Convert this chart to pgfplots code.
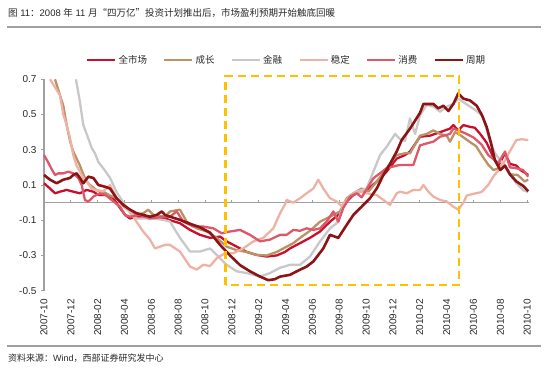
\documentclass[border=0pt]{standalone}
\usepackage{fontspec}
\setmainfont{Liberation Sans}
\newfontfamily\cjk{Noto Sans CJK SC}
\usepackage{pgfplots}
\pgfplotsset{compat=1.18}
\definecolor{cAll}{RGB}{200,16,46}
\definecolor{cGrow}{RGB}{188,145,102}
\definecolor{cFin}{RGB}{200,200,200}
\definecolor{cStab}{RGB}{238,178,165}
\definecolor{cCons}{RGB}{222,88,105}
\definecolor{cCyc}{RGB}{140,20,22}
\definecolor{axgray}{RGB}{160,160,160}
\definecolor{labcol}{RGB}{40,40,40}
\definecolor{boxc}{RGB}{255,192,0}
\pgfplotsset{
  legend image code/.code={\draw[#1, line width=2.6pt] (0pt,0pt) -- (28pt,0pt);},
}
\begin{document}
\begin{tikzpicture}
\path[use as bounding box] (0,0) rectangle (550pt,369pt);
\node[anchor=west, text=labcol, font=\fontsize{9.5}{11}\selectfont, inner sep=0pt] at (8pt,356pt)
  {{\cjk 图} 11{\cjk ：}2008 {\cjk 年} 11 {\cjk 月“四万亿”投资计划推出后，市场盈利预期开始触底回暖}};
\draw[axgray, line width=1.2pt] (7pt,342pt) -- (541pt,342pt);
\draw[axgray, line width=1.2pt] (7pt,23pt) -- (541pt,23pt);
\node[anchor=west, text=labcol, font=\fontsize{9}{11}\selectfont, inner sep=0pt] at (8pt,11pt)
  {{\cjk 资料来源：}Wind{\cjk ，西部证券研究发中心}};
\begin{axis}[
  at={(44pt,78.3pt)}, anchor=south west, scale only axis,
  width=484.5pt, height=211.4pt,
  xmin=0, xmax=36.1, ymin=-0.5, ymax=0.7,
  clip=false,
  axis x line*=bottom, axis y line*=left,
  x axis line style={draw=none},
  y axis line style={draw=axgray, line width=1pt, -},
  xtick={0,2,...,36},
  xticklabels={2007-10,2007-12,2008-02,2008-04,2008-06,2008-08,2008-10,2008-12,2009-02,2009-04,2009-06,2009-08,2009-10,2009-12,2010-02,2010-04,2010-06,2010-08,2010-10},
  xtick style={draw=none},
  ytick={-0.5,-0.3,-0.1,0.1,0.3,0.5,0.7},
  yticklabels={-0.5,-0.3,-0.1,0.1,0.3,0.5,0.7},
  ytick style={draw=axgray, line width=0.9pt},
  tick align=outside, major tick length=3pt,
  xticklabel style={rotate=90, anchor=east, font=\fontsize{10}{12}\selectfont, text=labcol},
  yticklabel style={font=\fontsize{10}{12}\selectfont, text=labcol},
  xticklabel shift=2pt, yticklabel shift=1pt,
  legend columns=6,
  legend style={draw=none, fill=none, at={(0.5005,1.091)}, anchor=center,
    font=\cjk\fontsize{9.5}{11}\selectfont, text=labcol, inner sep=0pt,
    /tikz/every even column/.append style={column sep=14pt}},
  every axis plot/.append style={line width=2.3pt, line join=round},
]
\addplot[forget plot, axgray, line width=1pt] coordinates {(0,0) (36.1,0)};
\addplot[forget plot, ycomb, axgray, line width=0.9pt] coordinates {(2,0.017) (4,0.017) (6,0.017) (8,0.017) (10,0.017) (12,0.017) (14,0.017) (16,0.017) (18,0.017) (20,0.017) (22,0.017) (24,0.017) (26,0.017) (28,0.017) (30,0.017) (32,0.017) (34,0.017) (36,0.017)};
% 全市场
\addplot[cAll] coordinates {(0,0.11) (0.45,0.08) (0.82,0.053) (1.19,0.062) (1.69,0.072) (2.18,0.062) (2.68,0.053) (3.18,0.072) (3.68,0.062) (4.05,0.043) (4.67,0.043) (5.17,0.025) (5.66,-0.03) (6.04,-0.07) (6.41,-0.09) (6.9,-0.08) (7.65,-0.08) (8.4,-0.09) (9.02,-0.09) (9.39,-0.10) (10.13,-0.117) (10.88,-0.155) (11.62,-0.183) (12.37,-0.20) (13.12,-0.193) (13.61,-0.22) (14.36,-0.25) (15.1,-0.28) (15.85,-0.297) (16.59,-0.306) (17.34,-0.30) (17.96,-0.28) (18.33,-0.26) (19.08,-0.23) (19.82,-0.20) (20.57,-0.164) (21.31,-0.108) (21.93,-0.07) (22.55,0.006) (23.05,0.043) (23.55,0.062) (24.04,0.07) (24.79,0.12) (25.53,0.176) (26.28,0.25) (26.9,0.27) (27.27,0.29) (28.02,0.374) (28.76,0.38) (29.51,0.40) (30.25,0.42) (30.5,0.44) (30.87,0.41) (31.25,0.44) (31.74,0.43) (32.1,0.425) (32.5,0.39) (32.98,0.34) (33.5,0.255) (33.85,0.21) (34.35,0.28) (34.72,0.22) (35.2,0.21) (35.5,0.185) (36.08,0.157)};
\addlegendentry{全市场}
% 成长
\addplot[cGrow] coordinates {(0.82,0.70) (1.19,0.61) (1.44,0.55) (1.69,0.44) (1.94,0.35) (2.18,0.29) (2.43,0.25) (2.68,0.21) (2.93,0.16) (3.18,0.12) (3.43,0.10) (3.93,0.07) (4.42,0.062) (4.92,0.04) (5.41,0.025) (5.91,-0.02) (6.41,-0.05) (6.9,-0.07) (7.4,-0.06) (7.77,-0.04) (8.15,-0.07) (9.02,-0.08) (9.39,-0.05) (10.13,-0.04) (10.63,-0.108) (11.38,-0.146) (12.12,-0.164) (12.87,-0.20) (13.61,-0.25) (14.36,-0.27) (15.1,-0.28) (15.85,-0.297) (16.59,-0.30) (17.34,-0.28) (18.08,-0.25) (18.58,-0.23) (19.08,-0.20) (19.82,-0.16) (20.57,-0.108) (21.31,-0.08) (22.05,-0.05) (22.55,0.025) (23.05,0.053) (23.67,0.08) (24.17,0.062) (24.79,0.12) (25.53,0.195) (26.28,0.27) (26.9,0.28) (27.27,0.28) (28.02,0.38) (28.52,0.39) (29.01,0.41) (29.51,0.39) (30.01,0.38) (30.25,0.346) (30.63,0.40) (31.0,0.384) (31.7,0.346) (32.2,0.32) (32.7,0.26) (33.1,0.215) (33.5,0.185) (33.85,0.195) (34.22,0.22) (34.72,0.16) (35.3,0.157) (35.8,0.12) (36.08,0.13)};
\addlegendentry{成长}
% 金融
\addplot[cFin] coordinates {(2.38,0.70) (2.68,0.57) (2.93,0.44) (3.3,0.365) (3.55,0.31) (3.8,0.28) (4.05,0.23) (4.42,0.195) (4.92,0.14) (5.41,0.06) (5.79,0.015) (6.16,-0.03) (6.53,-0.07) (6.9,-0.09) (7.4,-0.09) (8.15,-0.09) (9.02,-0.10) (9.39,-0.108) (10.13,-0.20) (10.88,-0.278) (11.62,-0.278) (12.37,-0.26) (12.87,-0.297) (13.61,-0.353) (14.36,-0.39) (15.1,-0.40) (16.1,-0.42) (16.84,-0.40) (17.59,-0.37) (18.33,-0.353) (19.08,-0.353) (19.82,-0.306) (20.57,-0.22) (21.31,-0.146) (21.81,-0.117) (22.3,-0.023) (22.8,0.043) (23.3,0.062) (24.04,0.08) (24.54,0.176) (25.04,0.27) (25.53,0.317) (26.16,0.39) (26.53,0.36) (26.9,0.35) (27.27,0.478) (27.65,0.39) (28.02,0.497) (28.52,0.555) (29.01,0.545) (29.51,0.516) (30.01,0.545) (30.5,0.56) (30.87,0.59) (31.25,0.57) (31.74,0.545) (32.24,0.52) (32.7,0.49) (33.2,0.355) (33.6,0.28) (34.0,0.24) (34.5,0.185) (35.2,0.11) (35.7,0.07) (36.08,0.06)};
\addlegendentry{金融}
% 稳定
\addplot[cStab] coordinates {(0.45,0.70) (1.19,0.61) (1.44,0.50) (1.69,0.44) (1.94,0.365) (2.18,0.27) (2.43,0.21) (2.68,0.176) (2.93,0.14) (3.18,0.12) (3.55,0.08) (3.93,0.07) (4.42,0.065) (4.92,0.10) (5.41,0.025) (5.91,-0.013) (6.41,-0.05) (6.9,-0.11) (7.4,-0.165) (7.9,-0.21) (8.27,-0.26) (8.64,-0.25) (9.02,-0.24) (9.39,-0.24) (10.13,-0.278) (10.88,-0.363) (11.38,-0.38) (11.87,-0.353) (12.37,-0.36) (12.87,-0.316) (13.49,-0.287) (14.11,-0.287) (14.85,-0.26) (15.6,-0.22) (16.34,-0.20) (17.09,-0.146) (17.59,-0.06) (17.96,-0.01) (18.08,0.015) (18.58,0.0) (19.08,0.025) (19.57,0.053) (20.07,0.08) (20.44,0.13) (20.81,0.08) (21.31,0.025) (21.81,0.006) (22.18,-0.02) (22.55,0.015) (23.05,0.053) (23.55,0.062) (24.04,0.053) (24.79,0.043) (25.29,0.015) (25.78,-0.013) (26.28,0.053) (26.53,0.062) (27.02,0.053) (27.52,0.072) (28.02,0.072) (28.27,0.10) (28.64,0.062) (29.01,0.034) (29.51,0.015) (30.01,0.006) (30.5,-0.023) (30.87,-0.04) (31.25,0.0) (31.5,0.04) (32.0,0.05) (32.6,0.06) (33.1,0.10) (33.5,0.15) (34.0,0.195) (34.35,0.24) (34.85,0.31) (35.2,0.355) (35.6,0.36) (36.08,0.355)};
\addlegendentry{稳定}
% 消费
\addplot[cCons] coordinates {(0,0.27) (0.3,0.23) (0.57,0.19) (0.82,0.157) (1.07,0.166) (1.44,0.166) (1.81,0.176) (2.18,0.166) (2.56,0.14) (2.81,0.10) (3.05,0.015) (3.3,0.006) (3.68,0.034) (4.17,0.053) (4.55,0.045) (5.04,0.015) (5.66,-0.023) (6.04,-0.07) (6.41,-0.08) (7.15,-0.07) (7.9,-0.09) (9.02,-0.08) (9.39,-0.08) (9.89,-0.05) (10.38,-0.108) (11.13,-0.136) (11.87,-0.136) (12.62,-0.146) (13.24,-0.174) (13.86,-0.164) (14.61,-0.155) (15.35,-0.183) (16.1,-0.22) (16.84,-0.21) (17.59,-0.183) (18.08,-0.183) (18.58,-0.155) (19.08,-0.16) (19.57,-0.146) (20.07,-0.155) (20.57,-0.146) (21.06,-0.108) (21.56,-0.05) (21.93,-0.108) (22.3,-0.03) (22.8,0.034) (23.3,0.053) (23.67,0.03) (24.54,0.138) (25.53,0.195) (26.28,0.21) (26.53,0.214) (27.52,0.214) (28.02,0.325) (28.52,0.336) (29.01,0.346) (29.51,0.374) (30.25,0.39) (30.5,0.42) (30.87,0.41) (31.49,0.39) (32.0,0.37) (32.6,0.33) (33.1,0.27) (33.6,0.24) (33.85,0.225) (34.35,0.29) (34.72,0.20) (35.2,0.195) (35.7,0.185) (36.08,0.147)};
\addlegendentry{消费}
% 周期
\addplot[cCyc, line width=2.6pt] coordinates {(0,0.157) (0.45,0.13) (0.94,0.11) (1.44,0.13) (1.94,0.14) (2.18,0.157) (2.43,0.166) (2.68,0.14) (2.93,0.11) (3.3,0.147) (3.68,0.14) (4.05,0.10) (4.55,0.09) (4.92,0.08) (5.41,0.025) (5.91,-0.013) (6.41,-0.04) (6.9,-0.06) (7.4,-0.07) (7.9,-0.08) (8.4,-0.07) (8.77,-0.05) (9.02,-0.07) (9.39,-0.08) (10.13,-0.098) (10.88,-0.12) (11.62,-0.14) (12.37,-0.17) (13.12,-0.24) (13.86,-0.30) (14.61,-0.355) (15.35,-0.39) (16.1,-0.42) (16.7,-0.44) (17.2,-0.435) (17.59,-0.42) (18.33,-0.41) (18.83,-0.39) (19.57,-0.363) (20.07,-0.334) (20.81,-0.26) (21.31,-0.183) (21.93,-0.20) (22.55,-0.127) (23.05,-0.07) (23.67,-0.023) (24.29,0.025) (24.79,0.08) (25.29,0.157) (25.78,0.22) (26.28,0.29) (26.65,0.355) (27.27,0.42) (28.02,0.51) (28.27,0.56) (29.01,0.56) (29.38,0.535) (29.76,0.55) (30.13,0.52) (30.5,0.56) (30.87,0.62) (31.25,0.59) (31.74,0.58) (32.24,0.55) (32.61,0.50) (32.98,0.43) (33.3,0.34) (33.6,0.24) (34.0,0.185) (34.35,0.21) (34.72,0.16) (35.2,0.12) (35.7,0.095) (36.08,0.065)};
\addlegendentry{周期}
% dashed box
\addplot[forget plot, boxc, line width=2.7pt, dash pattern=on 8pt off 5pt, line join=miter] coordinates {(13.54,-0.468) (13.54,0.718) (30.92,0.718) (30.92,-0.468)} -- cycle;
\end{axis}
\end{tikzpicture}
\end{document}
